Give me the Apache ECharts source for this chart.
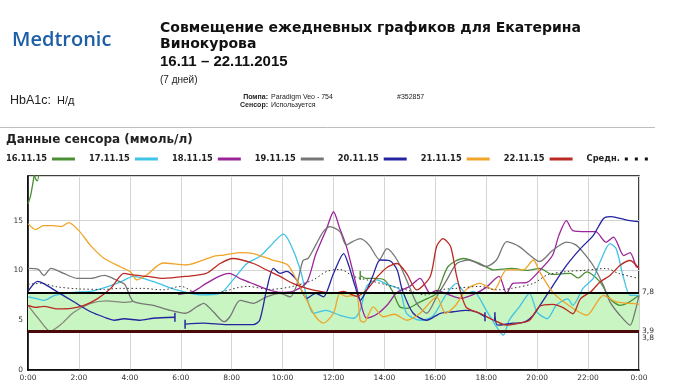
<!DOCTYPE html>
<html><head><meta charset="utf-8">
<script src="https://cdn.jsdelivr.net/npm/echarts@6/dist/echarts.min.js"></script>
<style>html,body{margin:0;padding:0;background:#fff}#c{width:676px;height:391px}</style>
</head><body><div id="c"></div>
<script>
// ---- data (hour of day, mmol/L) ----
const legendNames = ['16.11.15','17.11.15','18.11.15','19.11.15','20.11.15','21.11.15','22.11.15','Средн.'];
const xTicks = ['0:00','2:00','4:00','6:00','8:00','10:00','12:00','14:00','16:00','18:00','20:00','22:00','0:00'];
const d1611 = [[0,16.7],[0.1,17.5],[0.2,18.9],[0.25,19.6],[0.3,19.2],[0.37,19.0],[0.45,20.5],null,
  [13.05,9.5],[13.3,9.2],[13.6,9.2],[14.0,9.05],[14.3,8.0],[14.6,6.35],[14.9,6.2],[15.3,6.7],[15.7,7.2],[16.05,7.7],[16.5,10.4],[17.1,11.2],[17.75,10.7],[18.3,10.05],[19.0,10.2],[19.6,10.0],[20.1,10.2],[20.6,9.6],[21.3,9.7],[21.6,9.25],[21.95,9.85],[22.47,8.85],[22.86,7.15],[23.25,6.5],[23.6,6.8],[24,7.5]];
const d1711 = [[0,7.35],[0.3,7.2],[0.63,7.0],[1.05,7.5],[1.8,7.8],[2.46,7.9],[3.1,8.35],[3.64,8.85],[4.13,9.4],[4.9,8.9],[5.84,8.05],[6.75,7.55],[7.55,7.7],[8.05,9.05],[8.6,10.7],[9.1,11.4],[9.5,12.4],[10.03,13.65],[10.3,12.7],[10.7,10.05],[10.95,7.35],[11.2,5.7],[11.7,6.0],[12.25,5.5],[12.8,5.2],[13.05,6.0],[13.3,8.4],[13.7,9.05],[14.1,8.6],[14.6,8.05],[14.87,5.7],[15.4,5.0],[15.9,5.4],[16.45,7.7],[16.84,8.7],[17.2,7.7],[17.5,7.9],[18.0,6.0],[18.4,4.35],[18.67,3.5],[18.9,5.0],[19.3,6.35],[19.7,7.7],[20.0,5.8],[20.4,5.15],[20.75,6.5],[21.2,7.15],[21.4,6.5],[21.8,8.2],[22.2,9.2],[22.47,10.85],[22.86,12.7],[23.1,12.2],[23.4,9.2],[23.65,7.5],[24,7.5]];
const d1811 = [[5.9,7.6],[6.5,7.9],[7.0,8.7],[7.5,9.4],[7.9,9.7],[8.4,9.1],[8.9,8.6],[9.4,8.1],[9.9,7.8],[10.4,7.9],[10.95,8.8],[11.3,11.6],[11.73,14.2],[12.0,15.9],[12.25,14.2],[12.5,12.5],[12.8,9.5],[13.05,6.9],[13.3,5.2],[13.7,5.6],[14.1,6.5],[14.5,7.8],[15.0,8.4],[15.4,9.2],[15.8,7.7],[16.05,8.0],[16.5,7.6],[17.0,7.2],[17.5,7.6],[18.0,8.3],[18.5,9.4],[18.8,7.7],[19.05,8.7],[19.6,8.8],[20.1,10.0],[20.6,11.5],[20.85,13.5],[21.15,15.0],[21.4,14.0],[21.95,13.9],[22.3,13.9],[22.7,12.85],[23.0,13.35],[23.4,11.5],[23.65,11.8],[23.9,10.35],[24,10.3]];
const d1911 = [[0,10.2],[0.4,10.1],[0.63,9.5],[0.9,10.2],[1.4,9.7],[1.94,9.2],[2.46,9.2],[3.0,9.5],[3.5,9.0],[3.8,8.6],[4.13,6.9],[4.92,6.5],[5.58,6.0],[6.2,5.7],[6.63,6.35],[6.9,6.7],[7.28,5.85],[7.7,4.85],[7.93,5.35],[8.33,7.0],[8.85,6.7],[9.37,7.35],[9.9,7.7],[10.3,7.35],[10.55,8.5],[10.8,11.0],[11.0,11.2],[11.3,12.55],[11.6,13.9],[11.86,14.4],[12.25,13.9],[12.5,12.55],[12.75,12.9],[13.05,13.2],[13.4,12.55],[13.8,11.1],[14.1,12.2],[14.5,11.05],[14.87,9.05],[15.27,6.7],[15.66,5.7],[16.05,7.35],[16.45,9.05],[16.84,10.7],[17.3,11.05],[18.0,10.4],[18.4,11.05],[18.8,12.9],[19.3,12.4],[19.7,11.55],[20.1,10.9],[20.6,12.0],[21.15,12.85],[21.5,12.6],[21.8,11.85],[22.2,10.5],[22.6,8.5],[22.86,6.85],[23.25,5.5],[23.65,4.5],[23.84,5.8],[24,7.5]];
const d1911b = [[0,6.5],[0.4,5.2],[0.87,3.9],[1.3,4.6],[1.8,5.8],[2.46,6.7],[3.1,6.95],[3.77,6.8],[4.13,6.9]];
const d2011 = [[0,7.9],[0.37,8.9],[0.6,8.7],[1.15,7.85],[1.8,6.85],[2.46,5.85],[3.0,5.3],[3.4,5.0],[3.77,5.15],[4.4,5.0],[4.92,5.2],[5.77,5.3],null,
  [6.17,4.6],[6.9,4.7],[7.8,4.55],[8.85,4.55],[9.1,5.0],[9.37,8.05],[9.64,10.2],[9.9,9.7],[10.16,9.9],[10.55,9.05],[10.95,7.2],[11.3,7.7],[11.6,7.35],[12.0,9.7],[12.4,11.7],[12.6,10.5],[12.85,8.4],[13.05,7.0],[13.3,8.0],[13.55,9.5],[13.83,11.05],[14.2,11.0],[14.5,10.05],[14.7,8.05],[15.13,5.7],[15.66,5.0],[16.2,5.7],[16.7,5.85],[17.2,6.0],[17.6,5.85],[17.95,5.35],null,
  [18.34,5.35],[18.45,4.5],[19.06,4.7],[19.5,4.8],[19.85,5.5],[20.24,7.0],[20.6,8.4],[21.15,10.5],[21.7,12.2],[22.2,13.5],[22.6,15.2],[22.86,15.4],[23.3,15.2],[23.65,15.0],[24,14.9]];
const d2111 = [[0,14.7],[0.3,14.1],[0.6,14.5],[1.0,14.5],[1.3,14.4],[1.6,14.8],[2.0,14.0],[2.46,12.5],[3.0,11.2],[3.64,10.35],[4.03,9.85],[4.27,9.05],[4.66,9.55],[5.3,10.75],[6.2,10.55],[7.27,11.4],[7.7,11.55],[8.3,11.8],[8.85,11.7],[9.6,11.05],[10.2,10.55],[10.55,9.05],[10.95,7.0],[11.3,5.35],[11.6,4.7],[12.0,5.7],[12.25,7.7],[12.5,7.4],[12.9,7.5],[13.05,5.0],[13.2,4.8],[13.56,6.35],[13.95,5.35],[14.4,5.6],[14.87,5.0],[15.4,5.7],[16.05,7.35],[16.4,5.7],[16.8,6.5],[17.2,8.05],[17.75,8.7],[18.3,8.05],[18.8,10.05],[19.45,10.05],[19.85,11.05],[20.1,9.85],[20.6,7.85],[21.15,6.65],[21.95,5.5],[22.6,7.5],[23.1,6.85],[23.9,6.65],[24,6.6]];
const d2211 = [[0,6.5],[0.3,6.3],[0.63,6.4],[1.15,6.15],[1.7,6.2],[2.2,6.5],[2.72,7.15],[3.25,8.2],[3.77,9.7],[4.13,9.55],[4.7,9.4],[5.3,9.2],[6.2,9.4],[7.0,9.7],[7.55,10.7],[8.05,11.2],[8.85,10.7],[9.37,10.05],[9.9,9.4],[10.4,8.7],[10.95,8.2],[11.47,7.9],[12.0,7.7],[12.4,7.9],[12.9,7.4],[13.3,8.05],[13.7,9.3],[14.1,10.3],[14.5,10.7],[14.87,9.7],[15.27,8.05],[15.8,9.4],[16.05,12.4],[16.3,13.2],[16.6,12.4],[16.84,9.4],[17.2,6.35],[17.75,5.7],[18.3,5.0],[18.8,4.5],[19.3,4.7],[19.7,5.0],[20.1,6.4],[20.6,6.6],[21.0,6.3],[21.4,5.65],[21.7,7.15],[22.1,7.85],[22.47,8.85],[22.86,9.5],[23.25,10.5],[23.65,11.0],[24,10.2]];
const dAvg = [[0,8.6],[0.5,8.7],[1.15,8.35],[2.0,8.15],[3.0,8.1],[3.6,8.2],[4.5,8.2],[5.3,8.05],[6.0,8.4],[6.7,7.7],[7.5,7.8],[8.6,8.4],[9.5,8.1],[10.4,8.4],[11.2,9.05],[11.73,9.9],[12.25,10.1],[12.8,9.4],[13.4,9.0],[14.0,8.6],[14.87,8.05],[15.6,7.55],[16.2,8.05],[16.8,8.2],[17.75,8.4],[18.4,8.05],[19.0,8.2],[19.85,8.7],[20.4,9.55],[21.2,9.9],[21.8,10.0],[22.7,10.2],[23.2,9.7],[24,9.2]];
const gapMarks2011 = [[5.77,5.3],[6.17,4.6],[17.95,5.35],[18.34,5.35]];
const gapMarks1611 = [[13.05,9.5]];
const targetHigh = 7.8, targetLow = 3.9, targetLow2 = 3.8;

const colors = {'16.11.15':'#4b8f35','17.11.15':'#3fc3e6','18.11.15':'#9b249b','19.11.15':'#767676','20.11.15':'#2424a0','21.11.15':'#f0a428','22.11.15':'#bb2a22','Средн.':'#111'};

function line(name, data, extra) {
  return Object.assign({
    name: name, type: 'line', data: data, showSymbol: false, smooth: 0.25,
    connectNulls: false, z: 3, silent: true,
    itemStyle: {color: colors[name]},
    lineStyle: {color: colors[name], width: 1.3}
  }, extra || {});
}
function gapMarks(pts, color) {
  return {symbol: 'rect', symbolSize: [1.5, 9], silent: true, label: {show: false},
    itemStyle: {color: color}, data: pts.map(p => ({coord: p}))};
}

const FONT = 'DejaVu Sans';
const chart = echarts.init(document.getElementById('c'), null, {renderer: 'canvas'});
chart.setOption({
  animation: false,
  backgroundColor: '#fff',
  grid: {left: 28, right: 37, top: 175.9, bottom: 21, show: true, borderColor: '#000', borderWidth: 1.5},
  legend: {
    left: 6, top: 155, padding: 0, align: 'right', itemWidth: 23, itemHeight: 3, itemGap: 14,
    icon: 'rect', selectedMode: false,
    textStyle: {fontFamily: FONT, fontWeight: 'bold', fontSize: 8.3, color: '#222', padding: [0,0,0,0]},
    data: legendNames.map(n => n === 'Средн.' ?
      {name: n, icon: 'path://M0,0h3v3h-3zM10,0h3v3h-3zM20,0h3v3h-3z'} : {name: n})
  },
  xAxis: {
    type: 'value', min: 0, max: 24, interval: 2,
    axisLine: {show: true, lineStyle: {color: '#000', width: 1.5}},
    axisTick: {show: false},
    axisLabel: {fontFamily: FONT, fontSize: 7.5, color: '#333', margin: 4,
      formatter: v => xTicks[Math.round(v / 2)]},
    splitLine: {show: true, lineStyle: {color: '#d4d4d4', width: 1}}
  },
  yAxis: {
    type: 'value', min: 0, max: 19.5, interval: 5,
    axisLine: {show: true, lineStyle: {color: '#000', width: 1.5}},
    axisTick: {show: false},
    axisLabel: {fontFamily: FONT, fontSize: 7.5, color: '#333', margin: 5, showMaxLabel: false},
    splitLine: {show: true, lineStyle: {color: '#d4d4d4', width: 1}}
  },
  series: [
    {type: 'line', data: [], z: 1, silent: true,
      markArea: {silent: true, itemStyle: {color: '#c8f5c2'}, data: [[{yAxis: targetLow}, {yAxis: targetHigh}]]}},
    line('16.11.15', d1611, {markPoint: gapMarks(gapMarks1611, colors['16.11.15'])}),
    line('17.11.15', d1711),
    line('18.11.15', d1811),
    line('19.11.15', d1911),
    {type: 'line', data: d1911b, showSymbol: false, smooth: 0.25, z: 3, silent: true,
      lineStyle: {color: '#86867a', width: 1.3}, itemStyle: {color: '#86867a'}},
    line('20.11.15', d2011, {markPoint: gapMarks(gapMarks2011, colors['20.11.15'])}),
    line('21.11.15', d2111),
    line('22.11.15', d2211),
    line('Средн.', dAvg, {lineStyle: {color: '#333', width: 1, type: [1.5, 2.5]}, smooth: 0.3}),
    {type: 'line', data: [], z: 6, silent: true,
      markLine: {silent: true, symbol: 'none', animation: false,
        label: {position: 'end', distance: 3, fontFamily: FONT, fontSize: 7.5, color: '#333', lineHeight: 7},
        data: [
          {yAxis: targetHigh, lineStyle: {color: '#000', width: 2, type: 'solid'},
            label: {formatter: String(targetHigh).replace('.', ',')}},
          {yAxis: targetLow, lineStyle: {color: '#4a0a0a', width: 3, type: 'solid'},
            label: {formatter: String(targetLow).replace('.', ',') + '\n' + String(targetLow2).replace('.', ','), offset: [0, 3]}}
        ]}}
  ],
  graphic: [
    {type: 'text', left: 12, top: 30, style: {text: 'Medtronic', font: '600 20px "Open Sans"', fill: '#1d5ea6'}},
    {type: 'text', left: 160, top: 21, style: {text: 'Совмещение ежедневных графиков для Екатерина', font: 'bold 14px "DejaVu Sans"', fill: '#111'}},
    {type: 'text', left: 160, top: 37.5, style: {text: 'Винокурова', font: 'bold 14px "DejaVu Sans"', fill: '#111'}},
    {type: 'text', left: 160, top: 54.5, style: {text: '16.11 – 22.11.2015', font: 'bold 15px "Liberation Sans"', fill: '#111'}},
    {type: 'text', left: 160, top: 75, style: {text: '(7 дней)', font: '10px "Liberation Sans"', fill: '#222'}},
    {type: 'text', left: 10, top: 94, style: {text: 'HbA1c:', font: '12.5px "Liberation Sans"', fill: '#222'}},
    {type: 'text', left: 57, top: 95, style: {text: 'Н/д', font: '11px "Liberation Sans"', fill: '#222'}},
    {type: 'text', right: 676 - 268, top: 93.5, style: {text: 'Помпа:', font: 'bold 7px "Liberation Sans"', fill: '#222'}},
    {type: 'text', left: 271, top: 93.5, style: {text: 'Paradigm Veo - 754', font: '7px "Liberation Sans"', fill: '#222'}},
    {type: 'text', left: 397, top: 93.5, style: {text: '#352857', font: '7px "Liberation Sans"', fill: '#222'}},
    {type: 'text', right: 676 - 268, top: 102, style: {text: 'Сенсор:', font: 'bold 7px "Liberation Sans"', fill: '#222'}},
    {type: 'text', left: 271, top: 102, style: {text: 'Используется', font: '7px "Liberation Sans"', fill: '#222'}},
    {type: 'line', shape: {x1: 0, y1: 127.5, x2: 655, y2: 127.5}, style: {stroke: '#bdbdbd', lineWidth: 1}},
    {type: 'text', left: 6, top: 134, style: {text: 'Данные сенсора (ммоль/л)', font: 'bold 12px "DejaVu Sans"', fill: '#222'}}
  ]
});
</script></body></html>
